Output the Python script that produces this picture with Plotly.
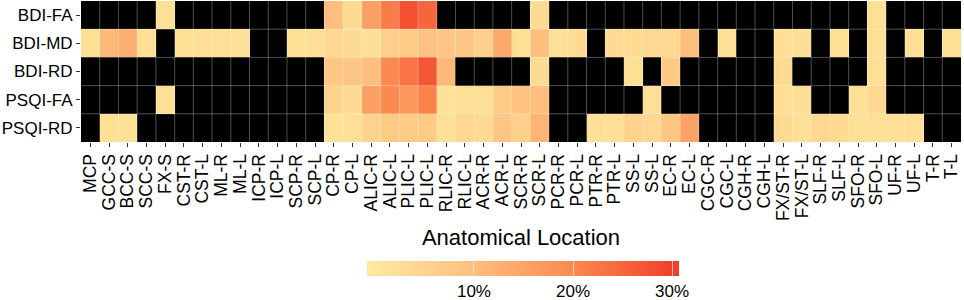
import plotly.graph_objects as go

locations = ["MCP", "GCC-S", "BCC-S", "SCC-S", "FX-S", "CST-R", "CST-L", "ML-R", "ML-L",
             "ICP-R", "ICP-L", "SCP-R", "SCP-L", "CP-R", "CP-L", "ALIC-R", "ALIC-L",
             "PLIC-L", "PLIC-L", "RLIC-R", "RLIC-L", "ACR-R", "ACR-L", "SCR-R", "SCR-L",
             "PCR-R", "PCR-L", "PTR-R", "PTR-L", "SS-L", "SS-L", "EC-R", "EC-L",
             "CGC-R", "CGC-L", "CGH-R", "CGH-L", "FX/ST-R", "FX/ST-L", "SLF-R", "SLF-L",
             "SFO-R", "SFO-L", "UF-R", "UF-L", "T-R", "T-L"]

measures = ["BDI-FA", "BDI-MD", "BDI-RD", "PSQI-FA", "PSQI-RD"]

N = None
bdi_fa = [N, N, N, N, 2, N, N, N, N, N, N, N, N, 10, 3, 16, 22, 28, 25, N, N, N, N, N, 3,
          N, N, N, N, N, N, N, N, N, N, N, N, N, N, N, N, N, 2, N, N, N, N]
bdi_md = [2, 11, 13, 2, N, 2, 2, 2, 2, N, N, 2, 2, 4, 3, 2, 6, 7, 9, 8, 8, 6, 14, 2, 10,
          2, 3, N, 3, 3, 4, 4, 10, N, 2, N, N, 2, 2, N, 2, N, 2, N, 2, N, 2]
bdi_rd = [N, N, N, N, N, N, N, N, N, N, N, N, N, 8, 8, 10, 20, 23, 27, 11, N, N, N, N, 3,
          N, N, N, N, 2, N, 7, N, N, N, N, N, 3, N, N, N, N, 2, N, N, N, N]
psqi_fa = [N, N, N, N, 2, N, N, N, N, N, N, N, N, 5, 3, 16, 20, 17, 21, 1.5, 2, 2, 7, 9, 10,
           N, N, N, N, N, 2, N, N, N, N, N, N, 2, 2, N, N, 2, 4, N, N, N, N]
psqi_rd = [N, 2, 2, N, N, N, N, N, N, N, N, N, N, 1.5, 2, 5, 7, 7, 7, 2, 4, 3, 8, 6, 12,
           N, N, 2, 2, 5, 4, 8, 15, N, N, N, N, 3, 2, 4, 3, 2, 2, 2, 2, N, N]

z = [bdi_fa, bdi_md, bdi_rd, psqi_fa, psqi_rd]

cbar_ticks = [10, 20, 30]
cbar_text = ["10%", "20%", "30%"]

zmin, zmax = -0.8, 30.7
def nrm(v):
    return (v - zmin) / (zmax - zmin)

colorscale = [
    [0.0, "#ffeb9f"],
    [nrm(10), "#fdbe7e"],
    [nrm(20), "#fb8a50"],
    [1.0, "#f03c28"],
]

FONT = "Arial, Liberation Sans, sans-serif"

fig = go.Figure()
fig.add_trace(go.Heatmap(
    z=z,
    x=list(range(len(locations))),
    y=list(range(len(measures))),
    zmin=zmin, zmax=zmax,
    colorscale=colorscale,
    hoverongaps=False,
    colorbar=dict(
        orientation="h",
        x=(523 - 81) / 880, xanchor="center",
        y=(142 - 261) / 141, yanchor="top",
        lenmode="pixels", len=312,
        thickness=15,
        xpad=0, ypad=0,
        outlinewidth=0,
        tickvals=cbar_ticks, ticktext=cbar_text,
        ticks="inside", ticklen=15, tickwidth=1,
        tickcolor="rgba(255,255,255,0.6)",
        tickfont=dict(family=FONT, size=17, color="#000"),
    ),
))

shapes = []
for i in range(len(locations) - 1):
    shapes.append(dict(type="line", xref="x", yref="y", x0=i + 0.5, x1=i + 0.5,
                       y0=-0.5, y1=len(measures) - 0.5,
                       line=dict(color="rgba(255,255,255,0.3)", width=1), layer="above"))
for j in range(len(measures) - 1):
    shapes.append(dict(type="line", xref="x", yref="y", x0=-0.5, x1=len(locations) - 0.5,
                       y0=j + 0.5, y1=j + 0.5,
                       line=dict(color="rgba(255,255,255,0.3)", width=1), layer="above"))

fig.update_layout(
    width=964, height=300,
    margin=dict(l=81, r=3, t=1, b=158, autoexpand=False),
    paper_bgcolor="white",
    plot_bgcolor="black",
    font=dict(family=FONT, color="#000"),
    shapes=shapes,
    xaxis=dict(
        range=[-0.5, len(locations) - 0.5],
        tickmode="array",
        tickvals=list(range(len(locations))),
        ticktext=locations,
        tickangle=-90,
        ticks="outside", ticklen=4, tickwidth=1, tickcolor="#333",
        tickfont=dict(family=FONT, size=17.5, color="#000"),
        ticklabeloverflow="allow",
        automargin=False,
        showgrid=False, zeroline=False, showline=False,
        title=dict(text="Anatomical Location", font=dict(family=FONT, size=22, color="#000"),
                   standoff=9),
    ),
    yaxis=dict(
        range=[len(measures) - 0.5, -0.5],
        tickmode="array",
        tickvals=list(range(len(measures))),
        ticktext=measures,
        ticks="outside", ticklen=4, tickwidth=1, tickcolor="#333",
        tickfont=dict(family=FONT, size=17, color="#000"),
        automargin=False,
        showgrid=False, zeroline=False, showline=False,
    ),
)

fig.write_html(
    "out.html",
    config={"displayModeBar": False},
    post_script="document.body.style.margin='0px';document.body.style.overflow='hidden';",
)
